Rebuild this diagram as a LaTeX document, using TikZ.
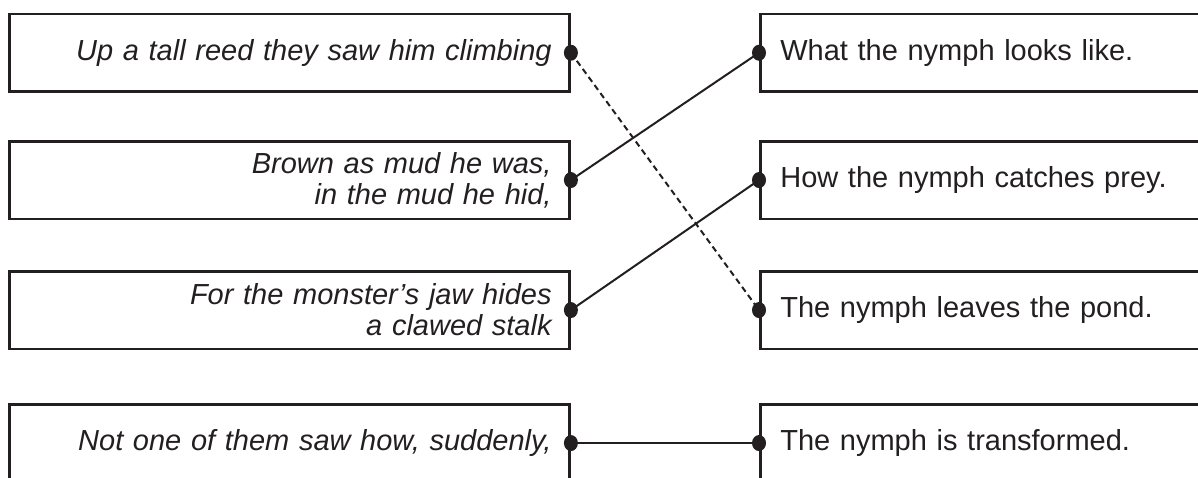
\documentclass[tikz,border=0pt]{standalone}
\usepackage{fontspec}
\setmainfont{Liberation Sans}
\usepackage{xcolor}
\definecolor{ink}{HTML}{231F20}
\tikzset{
  box/.style = {rectangle, draw=ink, line width=1.3pt, text=ink,
    anchor=north west, inner ysep=0pt, minimum height=38.75pt,
    font=\fontsize{14.5}{15.5}\selectfont},
  verse/.style = {box, text width=262pt, inner xsep=9pt, align=right,
    font=\fontsize{14.5}{15.5}\selectfont\itshape},% line of the poem
  topic/.style = {box, text width=220pt, inner xsep=10pt, align=left},% what it tells
  dot/.style = {ellipse, fill=ink, inner sep=0pt, minimum width=7pt,
    minimum height=8pt},
  link/.style = {draw=ink, line width=1pt}
}
\usetikzlibrary{shapes.geometric}

\begin{document}
\begin{tikzpicture}[x=0.5pt, y=-0.5pt]
    \useasboundingbox (0,0) rectangle (1198,477);
    \clip (0,0) rectangle (1198,477);
    % poem lines
    \node [verse] (v1) at (8.3,12.7) {Up a tall reed they saw him climbing};
    \node [verse] (v2) at (8.3,140) {Brown as mud he was,\\in the mud he hid,};
    \node [verse] (v3) at (8.3,270) {For the monster’s jaw hides\\a clawed stalk};
    \node [verse] (v4) at (8.3,403) {Not one of them saw how, suddenly,};
    % topics
    \node [topic] (t1) at (759,12.7) {What the nymph looks like.};
    \node [topic] (t2) at (759,140) {How the nymph catches prey.};
    \node [topic] (t3) at (759,270) {The nymph leaves the pond.};
    \node [topic] (t4) at (759,403) {The nymph is transformed.};
    % matches
    \draw [link, dash pattern=on 3pt off 2pt] (v1.east) -- (t3.west);
    \draw [link] (v2.east) -- (t1.west);
    \draw [link] (v3.east) -- (t2.west);
    \draw [link] (v4.east) -- (t4.west);
    \foreach \n in {v1,v2,v3,v4}
        \node [dot] at (\n.east) {};
    \foreach \n in {t1,t2,t3,t4}
        \node [dot] at (\n.west) {};
\end{tikzpicture}
\end{document}
